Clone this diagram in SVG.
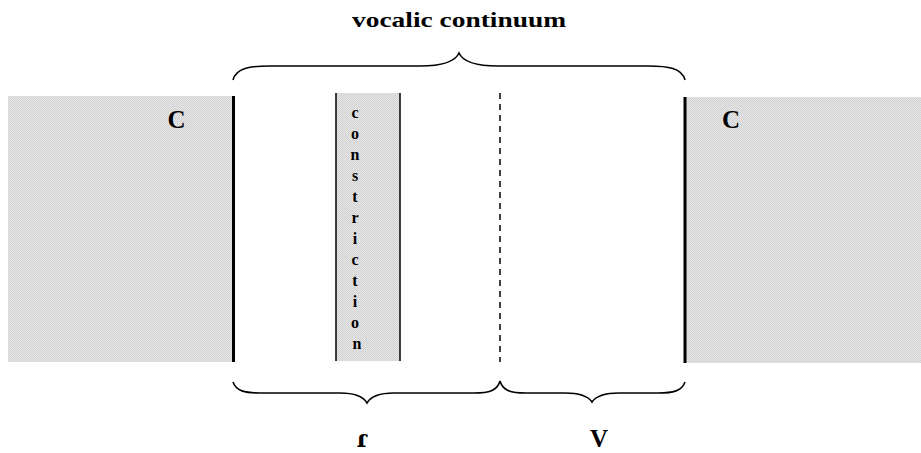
<svg xmlns="http://www.w3.org/2000/svg" width="921" height="453" viewBox="0 0 921 453">
<style>
.lbl{font-family:"Liberation Serif","Times New Roman",serif;font-weight:bold;fill:#000}
.brace{fill:none;stroke:#000;stroke-width:1.6}
.shade{fill:url(#dots)}
</style>
<defs>
<pattern id="dots" width="2" height="2" patternUnits="userSpaceOnUse">
<rect width="2" height="2" fill="#e6e6e6"/>
<rect width="1" height="1" fill="#d2d2d2"/>
<rect x="1" y="1" width="1" height="1" fill="#d2d2d2"/>
</pattern>
</defs>
<rect width="921" height="453" fill="#fff"/>
<g id="left-consonant">
<rect class="shade" x="8" y="96" width="225" height="266"/>
<line x1="233.5" y1="96" x2="233.5" y2="362" stroke="#000" stroke-width="3"/>
<text class="lbl" x="176.5" y="128" font-size="25" text-anchor="middle">C</text>
</g>
<g id="right-consonant">
<rect class="shade" x="686" y="97" width="235" height="266"/>
<line x1="685" y1="97" x2="685" y2="363" stroke="#000" stroke-width="3"/>
<text class="lbl" x="731" y="128" font-size="25" text-anchor="middle">C</text>
</g>
<g id="constriction">
<rect class="shade" x="336" y="93" width="64" height="268"/>
<line x1="336" y1="93" x2="336" y2="361" stroke="#000" stroke-width="1.5"/>
<line x1="400" y1="93" x2="400" y2="361" stroke="#000" stroke-width="1.5"/>
<text class="lbl" font-size="16" text-anchor="middle">
<tspan x="357" y="118">c</tspan>
<tspan x="357" y="139">o</tspan>
<tspan x="357" y="160">n</tspan>
<tspan x="357" y="181">s</tspan>
<tspan x="357" y="202">t</tspan>
<tspan x="357" y="223">r</tspan>
<tspan x="357" y="244">i</tspan>
<tspan x="357" y="265">c</tspan>
<tspan x="357" y="286">t</tspan>
<tspan x="357" y="307">i</tspan>
<tspan x="357" y="328">o</tspan>
<tspan x="357" y="349">n</tspan>
</text>
</g>
<g id="boundary">
<line x1="500" y1="93" x2="500" y2="362" stroke="#000" stroke-width="1.5" stroke-dasharray="6,5"/>
</g>
<g id="connectors">
<path class="brace" d="M233,80 C236,68 250,66 270,66 L420,66 C440,66 455,62 459,53 C463,62 478,66 498,66 L648,66 C668,66 682,68 685,80"/>
<path class="brace" d="M233,382 C236,391 245,393 260,393 L340,393 C355,393 363,396 367,403 C371,396 379,393 394,393 L474,393 C489,393 497,391 500,381"/>
<path class="brace" d="M500,381 C503,391 511,393 526,393 L565,393 C580,393 588,396 592,402 C596,396 604,393 619,393 L658,393 C673,393 682,391 685,382"/>
</g>
<g id="labels">
<text class="lbl" x="352" y="27" font-size="22" textLength="214" lengthAdjust="spacingAndGlyphs">vocalic continuum</text>
<text class="lbl" x="362" y="447" font-size="24" text-anchor="middle" style="font-family:'DejaVu Serif',serif">ɾ</text>
<text class="lbl" x="599" y="447" font-size="25" text-anchor="middle">V</text>
</g>
</svg>
